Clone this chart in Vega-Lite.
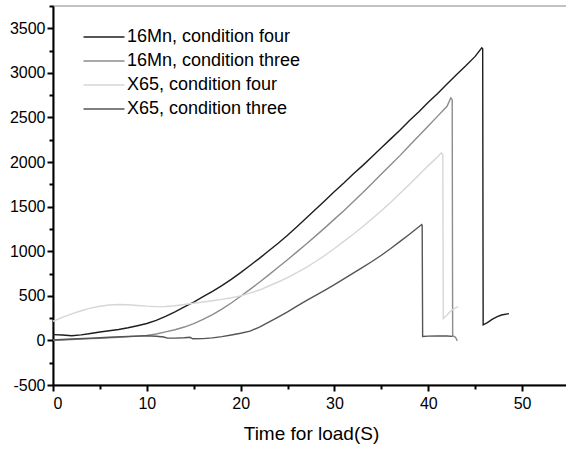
{
  "$schema": "https://vega.github.io/schema/vega-lite/v6.json",
  "autosize": {"type": "none"},
  "padding": {"left": 53, "top": 6, "right": 0, "bottom": 65},
  "width": 516,
  "height": 379,
  "background": "white",
  "config": {
    "font": "Liberation Sans",
    "view": {"stroke": "#b0b0b0", "strokeWidth": 1.5}
  },
  "data": {"values": [
    {"s":"16Mn, condition four","t":0,"v":65},{"s":"16Mn, condition four","t":1,"v":60},{"s":"16Mn, condition four","t":2,"v":52},{"s":"16Mn, condition four","t":3,"v":62},{"s":"16Mn, condition four","t":4,"v":78},{"s":"16Mn, condition four","t":5,"v":95},{"s":"16Mn, condition four","t":6,"v":108},{"s":"16Mn, condition four","t":7,"v":122},{"s":"16Mn, condition four","t":8,"v":142},{"s":"16Mn, condition four","t":9,"v":165},{"s":"16Mn, condition four","t":10,"v":190},{"s":"16Mn, condition four","t":11,"v":225},{"s":"16Mn, condition four","t":12,"v":270},{"s":"16Mn, condition four","t":13,"v":320},{"s":"16Mn, condition four","t":14,"v":375},{"s":"16Mn, condition four","t":15,"v":430},{"s":"16Mn, condition four","t":16,"v":490},{"s":"16Mn, condition four","t":17,"v":550},{"s":"16Mn, condition four","t":18,"v":615},{"s":"16Mn, condition four","t":19,"v":685},{"s":"16Mn, condition four","t":20,"v":760},{"s":"16Mn, condition four","t":21,"v":840},{"s":"16Mn, condition four","t":22,"v":920},{"s":"16Mn, condition four","t":23,"v":1005},{"s":"16Mn, condition four","t":24,"v":1090},{"s":"16Mn, condition four","t":25,"v":1180},{"s":"16Mn, condition four","t":26,"v":1275},{"s":"16Mn, condition four","t":27,"v":1372},{"s":"16Mn, condition four","t":28,"v":1470},{"s":"16Mn, condition four","t":29,"v":1570},{"s":"16Mn, condition four","t":30,"v":1670},{"s":"16Mn, condition four","t":31,"v":1765},{"s":"16Mn, condition four","t":32,"v":1865},{"s":"16Mn, condition four","t":33,"v":1960},{"s":"16Mn, condition four","t":34,"v":2060},{"s":"16Mn, condition four","t":35,"v":2160},{"s":"16Mn, condition four","t":36,"v":2260},{"s":"16Mn, condition four","t":37,"v":2360},{"s":"16Mn, condition four","t":38,"v":2465},{"s":"16Mn, condition four","t":39,"v":2565},{"s":"16Mn, condition four","t":40,"v":2670},{"s":"16Mn, condition four","t":41,"v":2770},{"s":"16Mn, condition four","t":42,"v":2875},{"s":"16Mn, condition four","t":43,"v":2980},{"s":"16Mn, condition four","t":44,"v":3080},{"s":"16Mn, condition four","t":45,"v":3185},{"s":"16Mn, condition four","t":45.7,"v":3280},{"s":"16Mn, condition four","t":45.8,"v":3270},{"s":"16Mn, condition four","t":45.85,"v":175},{"s":"16Mn, condition four","t":46.3,"v":200},{"s":"16Mn, condition four","t":46.8,"v":235},{"s":"16Mn, condition four","t":47.3,"v":265},{"s":"16Mn, condition four","t":47.8,"v":285},{"s":"16Mn, condition four","t":48.6,"v":300},
    {"s":"16Mn, condition three","t":0,"v":2},{"s":"16Mn, condition three","t":1,"v":5},{"s":"16Mn, condition three","t":2,"v":10},{"s":"16Mn, condition three","t":3,"v":15},{"s":"16Mn, condition three","t":4,"v":20},{"s":"16Mn, condition three","t":5,"v":25},{"s":"16Mn, condition three","t":6,"v":30},{"s":"16Mn, condition three","t":7,"v":36},{"s":"16Mn, condition three","t":8,"v":42},{"s":"16Mn, condition three","t":9,"v":48},{"s":"16Mn, condition three","t":10,"v":56},{"s":"16Mn, condition three","t":11,"v":72},{"s":"16Mn, condition three","t":12,"v":95},{"s":"16Mn, condition three","t":13,"v":120},{"s":"16Mn, condition three","t":14,"v":150},{"s":"16Mn, condition three","t":15,"v":188},{"s":"16Mn, condition three","t":16,"v":235},{"s":"16Mn, condition three","t":17,"v":290},{"s":"16Mn, condition three","t":18,"v":350},{"s":"16Mn, condition three","t":19,"v":420},{"s":"16Mn, condition three","t":20,"v":495},{"s":"16Mn, condition three","t":21,"v":572},{"s":"16Mn, condition three","t":22,"v":652},{"s":"16Mn, condition three","t":23,"v":735},{"s":"16Mn, condition three","t":24,"v":820},{"s":"16Mn, condition three","t":25,"v":905},{"s":"16Mn, condition three","t":26,"v":993},{"s":"16Mn, condition three","t":27,"v":1082},{"s":"16Mn, condition three","t":28,"v":1172},{"s":"16Mn, condition three","t":29,"v":1265},{"s":"16Mn, condition three","t":30,"v":1360},{"s":"16Mn, condition three","t":31,"v":1455},{"s":"16Mn, condition three","t":32,"v":1555},{"s":"16Mn, condition three","t":33,"v":1655},{"s":"16Mn, condition three","t":34,"v":1760},{"s":"16Mn, condition three","t":35,"v":1865},{"s":"16Mn, condition three","t":36,"v":1970},{"s":"16Mn, condition three","t":37,"v":2075},{"s":"16Mn, condition three","t":38,"v":2185},{"s":"16Mn, condition three","t":39,"v":2295},{"s":"16Mn, condition three","t":40,"v":2405},{"s":"16Mn, condition three","t":41,"v":2515},{"s":"16Mn, condition three","t":42,"v":2625},{"s":"16Mn, condition three","t":42.4,"v":2720},{"s":"16Mn, condition three","t":42.55,"v":2700},{"s":"16Mn, condition three","t":42.6,"v":55},{"s":"16Mn, condition three","t":42.9,"v":35},{"s":"16Mn, condition three","t":43.1,"v":-5},
    {"s":"X65, condition four","t":0,"v":215},{"s":"X65, condition four","t":1,"v":258},{"s":"X65, condition four","t":2,"v":298},{"s":"X65, condition four","t":3,"v":333},{"s":"X65, condition four","t":4,"v":362},{"s":"X65, condition four","t":5,"v":383},{"s":"X65, condition four","t":6,"v":397},{"s":"X65, condition four","t":7,"v":403},{"s":"X65, condition four","t":8,"v":400},{"s":"X65, condition four","t":9,"v":392},{"s":"X65, condition four","t":10,"v":384},{"s":"X65, condition four","t":11,"v":379},{"s":"X65, condition four","t":12,"v":380},{"s":"X65, condition four","t":13,"v":388},{"s":"X65, condition four","t":14,"v":402},{"s":"X65, condition four","t":15,"v":416},{"s":"X65, condition four","t":16,"v":430},{"s":"X65, condition four","t":17,"v":444},{"s":"X65, condition four","t":18,"v":460},{"s":"X65, condition four","t":19,"v":478},{"s":"X65, condition four","t":20,"v":500},{"s":"X65, condition four","t":21,"v":530},{"s":"X65, condition four","t":22,"v":565},{"s":"X65, condition four","t":23,"v":610},{"s":"X65, condition four","t":24,"v":655},{"s":"X65, condition four","t":25,"v":705},{"s":"X65, condition four","t":26,"v":760},{"s":"X65, condition four","t":27,"v":820},{"s":"X65, condition four","t":28,"v":885},{"s":"X65, condition four","t":29,"v":955},{"s":"X65, condition four","t":30,"v":1030},{"s":"X65, condition four","t":31,"v":1110},{"s":"X65, condition four","t":32,"v":1190},{"s":"X65, condition four","t":33,"v":1275},{"s":"X65, condition four","t":34,"v":1365},{"s":"X65, condition four","t":35,"v":1455},{"s":"X65, condition four","t":36,"v":1550},{"s":"X65, condition four","t":37,"v":1650},{"s":"X65, condition four","t":38,"v":1750},{"s":"X65, condition four","t":39,"v":1855},{"s":"X65, condition four","t":40,"v":1960},{"s":"X65, condition four","t":41,"v":2060},{"s":"X65, condition four","t":41.4,"v":2103},{"s":"X65, condition four","t":41.55,"v":2085},{"s":"X65, condition four","t":41.6,"v":245},{"s":"X65, condition four","t":42,"v":285},{"s":"X65, condition four","t":42.4,"v":330},{"s":"X65, condition four","t":42.8,"v":360},{"s":"X65, condition four","t":43.2,"v":378},
    {"s":"X65, condition three","t":0,"v":5},{"s":"X65, condition three","t":2,"v":15},{"s":"X65, condition three","t":4,"v":25},{"s":"X65, condition three","t":6,"v":35},{"s":"X65, condition three","t":8,"v":44},{"s":"X65, condition three","t":10,"v":52},{"s":"X65, condition three","t":11,"v":46},{"s":"X65, condition three","t":11.8,"v":38},{"s":"X65, condition three","t":12.2,"v":26},{"s":"X65, condition three","t":13,"v":26},{"s":"X65, condition three","t":14,"v":30},{"s":"X65, condition three","t":14.6,"v":35},{"s":"X65, condition three","t":14.9,"v":18},{"s":"X65, condition three","t":16,"v":20},{"s":"X65, condition three","t":17,"v":28},{"s":"X65, condition three","t":18,"v":42},{"s":"X65, condition three","t":19,"v":60},{"s":"X65, condition three","t":20,"v":80},{"s":"X65, condition three","t":21,"v":104},{"s":"X65, condition three","t":22,"v":150},{"s":"X65, condition three","t":23,"v":205},{"s":"X65, condition three","t":24,"v":262},{"s":"X65, condition three","t":25,"v":320},{"s":"X65, condition three","t":26,"v":385},{"s":"X65, condition three","t":27,"v":445},{"s":"X65, condition three","t":28,"v":505},{"s":"X65, condition three","t":29,"v":565},{"s":"X65, condition three","t":30,"v":625},{"s":"X65, condition three","t":31,"v":690},{"s":"X65, condition three","t":32,"v":755},{"s":"X65, condition three","t":33,"v":820},{"s":"X65, condition three","t":34,"v":885},{"s":"X65, condition three","t":35,"v":955},{"s":"X65, condition three","t":36,"v":1030},{"s":"X65, condition three","t":37,"v":1110},{"s":"X65, condition three","t":38,"v":1190},{"s":"X65, condition three","t":39,"v":1275},{"s":"X65, condition three","t":39.3,"v":1300},{"s":"X65, condition three","t":39.35,"v":1290},{"s":"X65, condition three","t":39.4,"v":45},{"s":"X65, condition three","t":40,"v":48},{"s":"X65, condition three","t":41,"v":51},{"s":"X65, condition three","t":42,"v":50},{"s":"X65, condition three","t":42.6,"v":45}
  ]},
  "mark": {"type": "line", "strokeWidth": 1.4, "interpolate": "linear"},
  "encoding": {
    "x": {
      "field": "t", "type": "quantitative",
      "scale": {"domain": [0, 55], "nice": false, "zero": false},
      "axis": {
        "title": "Time for load(S)",
        "titleFontSize": 19, "titleFontWeight": "normal", "titleColor": "#000", "titlePadding": 13,
        "values": [0, 5, 10, 15, 20, 25, 30, 35, 40, 45, 50, 55],
        "labelExpr": "datum.value % 10 === 0 && datum.value < 55 ? datum.label : ''",
        "labelFontSize": 16, "labelColor": "#000", "labelPadding": 4,
        "tickColor": "#000", "tickWidth": 2,
        "tickSize": {"condition": {"test": "datum.value % 10 === 0", "value": 6}, "value": 4},
        "domainColor": "#000", "domainWidth": 2, "grid": false
      }
    },
    "y": {
      "field": "v", "type": "quantitative",
      "scale": {"domain": [-500, 3750], "nice": false, "zero": false},
      "axis": {
        "title": null,
        "values": [-500, -250, 0, 250, 500, 750, 1000, 1250, 1500, 1750, 2000, 2250, 2500, 2750, 3000, 3250, 3500, 3750],
        "labelExpr": "datum.value % 500 === 0 ? datum.value + '' : ''",
        "labelFontSize": 16, "labelColor": "#000", "labelPadding": 2,
        "tickColor": "#000", "tickWidth": 2,
        "tickSize": {"condition": {"test": "datum.value % 500 === 0", "value": 6}, "value": 4},
        "domainColor": "#000", "domainWidth": 2, "grid": false
      }
    },
    "color": {
      "field": "s", "type": "nominal",
      "scale": {
        "domain": ["16Mn, condition four", "16Mn, condition three", "X65, condition four", "X65, condition three"],
        "range": ["#1e1e1e", "#8c8c8c", "#d6d6d6", "#555555"]
      },
      "legend": {
        "title": null, "orient": "none", "legendX": 40, "legendY": 20,
        "symbolType": "M-2,0H2", "symbolSize": 420, "symbolStrokeWidth": 1.5, "symbolFillColor": "transparent",
        "labelFontSize": 18, "labelColor": "#000", "labelOffset": 12,
        "rowPadding": 4, "labelLimit": 400
      }
    }
  }
}
